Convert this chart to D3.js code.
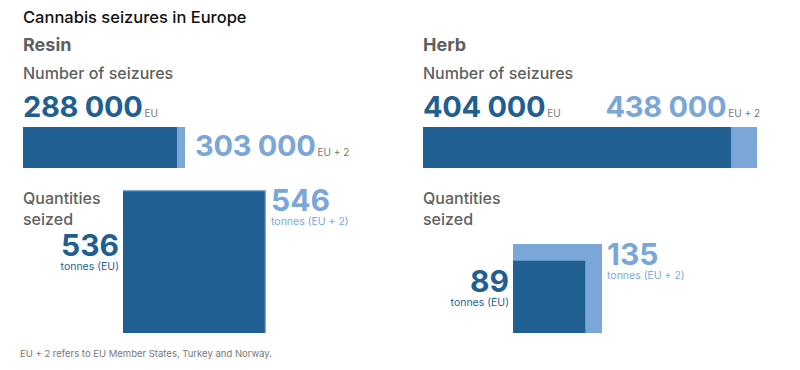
<!DOCTYPE html>
<html>
<head>
<meta charset="utf-8">
<script src="https://cdn.jsdelivr.net/npm/d3@7"></script>
<style>
  body { margin: 0; background: #fff; }
  svg text { font-family: Inter, Roboto, sans-serif; }
</style>
</head>
<body>
<div id="holder"></div>
<script>
const dark = "#1f5f92", light = "#7ba7d8", grey = "#5f5f5f";
const w = 800, h = 370;

// panels and values
const panels = ["Resin", "Herb"];
const seizuresEU = [288000, 404000];
const seizuresEU2 = [303000, 438000];
const tonnesEU = [536, 89];
const tonnesEU2 = [546, 135];
const footnote = "EU + 2 refers to EU Member States, Turkey and Norway.";

const fmt = v => d3.format(",")(v).replace(/,/g, " ");

const svg = d3.select('#holder')
    .append('svg')
    .attr('width', w)
    .attr('height', h);

svg.append("text")
    .text("Cannabis seizures in Europe")
    .attr("x", 23).attr("y", 23)
    .style("font-size", "16.5px").style("font-weight", 500).style("fill", "#111");

// each panel has its own scale in the original
const barScales = [
    d3.scaleLinear().domain([0, seizuresEU2[0]]).range([0, 162]),
    d3.scaleLinear().domain([0, seizuresEU2[1]]).range([0, 334])
];
const sqScales = [
    d3.scaleSqrt().domain([0, tonnesEU2[0]]).range([0, 143]),
    d3.scaleSqrt().domain([0, tonnesEU2[1]]).range([0, 89])
];
const sqLeft = [123, 513];

panels.forEach((name, i) => {
    const ox = i === 0 ? 23 : 423;
    const g = svg.append("g").attr("transform", `translate(${ox},0)`);
    const x = barScales[i];

    g.append("text").text(name)
        .attr("x", 0).attr("y", 51)
        .style("font-size", "18px").style("font-weight", 700).style("fill", grey);

    g.append("text").text("Number of seizures")
        .attr("x", 0).attr("y", 79)
        .style("font-size", "16px").style("font-weight", 500).style("fill", grey);

    // bars: EU+2 behind, EU on top
    g.append("rect")
        .attr("x", 0).attr("y", 127)
        .attr("width", x(seizuresEU2[i])).attr("height", 41)
        .style("fill", light);
    g.append("rect")
        .attr("x", 0).attr("y", 127)
        .attr("width", x(seizuresEU[i])).attr("height", 41)
        .style("fill", dark);

    // EU label
    const eu = g.append("text").attr("x", 0).attr("y", 117);
    eu.append("tspan").text(fmt(seizuresEU[i]))
        .style("font-size", "29px").style("font-weight", 700).style("fill", dark)
        .style("letter-spacing", "-0.3px");
    eu.append("tspan").text("EU").attr("dx", 2)
        .style("font-size", "10px").style("fill", "#777");

    // EU+2 label
    const eu2 = g.append("text");
    if (i === 0) {
        eu2.attr("x", x(seizuresEU2[i]) + 10).attr("y", 156);
    } else {
        eu2.attr("x", x(seizuresEU2[i]) + 3).attr("y", 117).style("text-anchor", "end");
    }
    eu2.append("tspan").text(fmt(seizuresEU2[i]))
        .style("font-size", "29px").style("font-weight", 700).style("fill", light)
        .style("letter-spacing", "-0.3px");
    eu2.append("tspan").text("EU + 2").attr("dx", 2)
        .style("font-size", "10px").style("fill", "#777");

    const q = g.append("text").attr("x", 0).attr("y", 204)
        .style("font-size", "16px").style("font-weight", 500).style("fill", grey);
    q.append("tspan").text("Quantities").attr("x", 0);
    q.append("tspan").text("seized").attr("x", 0).attr("dy", 21);

    // squares, bottom-left aligned
    const s = sqScales[i];
    const left = sqLeft[i] - ox, bottom = 333;
    g.append("rect")
        .attr("x", left).attr("y", bottom - s(tonnesEU2[i]))
        .attr("width", s(tonnesEU2[i])).attr("height", s(tonnesEU2[i]))
        .style("fill", light);
    g.append("rect")
        .attr("x", left).attr("y", bottom - s(tonnesEU[i]))
        .attr("width", s(tonnesEU[i])).attr("height", s(tonnesEU[i]))
        .style("fill", dark);

    // EU tonnes on the left of the dark square
    const yEU = i === 0 ? 256 : 292;
    g.append("text").text(tonnesEU[i])
        .attr("x", left - 4).attr("y", yEU)
        .style("text-anchor", "end")
        .style("font-size", "30px").style("font-weight", 700).style("fill", dark);
    g.append("text").text("tonnes (EU)")
        .attr("x", left - 4).attr("y", yEU + 14)
        .style("text-anchor", "end")
        .style("font-size", "10.5px").style("fill", dark);

    // EU+2 tonnes on the right near the top
    const right = left + s(tonnesEU2[i]);
    const yEU2 = bottom - s(tonnesEU2[i]) + 21;
    g.append("text").text(tonnesEU2[i])
        .attr("x", right + 5).attr("y", yEU2)
        .style("font-size", "30px").style("font-weight", 700).style("fill", light);
    g.append("text").text("tonnes (EU + 2)")
        .attr("x", right + 5).attr("y", yEU2 + 14)
        .style("font-size", "10.5px").style("fill", light);
});

svg.append("text").text(footnote)
    .attr("x", 20).attr("y", 357)
    .style("font-size", "9.5px").style("fill", "#777");
</script>
</body>
</html>
